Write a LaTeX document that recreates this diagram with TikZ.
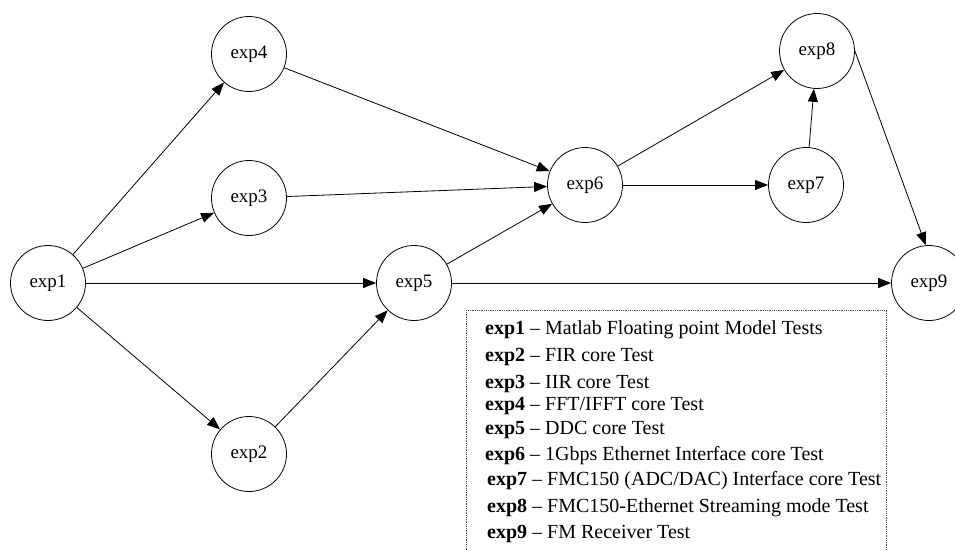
\documentclass[tikz,border=0pt]{standalone}
\usepackage{fontspec}
\setmainfont{Liberation Serif}
\usetikzlibrary{arrows.meta}
\begin{document}
\begin{tikzpicture}[x=1pt,y=-1pt,
  expnode/.style={circle,draw,line width=0.8pt,minimum size=75pt,inner sep=0pt,font=\fontsize{19}{22}\selectfont},
  edge/.style={line width=0.8pt,-{Triangle[length=13pt,width=10pt]}},
  legtext/.style={anchor=base west,inner sep=0pt,font=\fontsize{20}{23}\selectfont}]
\useasboundingbox (0,0) rectangle (955,551);
\fill[white] (0,0) rectangle (955,551);
\node[expnode] (e1) at (48,283) {exp1};
\node[expnode] (e4) at (249,54) {exp4};
\node[expnode] (e3) at (249,198) {exp3};
\node[expnode] (e2) at (249,454) {exp2};
\node[expnode] (e5) at (414,283) {exp5};
\node[expnode] (e6) at (585,185) {exp6};
\node[expnode] (e7) at (806,185) {exp7};
\node[expnode] (e8) at (817,51) {exp8};
\node[expnode] (e9) at (929,283) {exp9};
\draw[edge] (e1) -- (e4);
\draw[edge] (e1) -- (e3);
\draw[edge] (e1) -- (e5);
\draw[edge] (e1) -- (e2);
\draw[edge] (e2) -- (e5);
\draw[edge] (e4) -- (e6);
\draw[edge] (e3) -- (e6);
\draw[edge] (e5) -- (e6);
\draw[edge] (e5) -- (e9);
\draw[edge] (e6) -- (e8);
\draw[edge] (e6) -- (e7);
\draw[edge] (e7) -- (e8);
\draw[edge] (e8.east) -- (e9.95);
\draw[densely dotted,line width=0.8pt,black!70] (466,310) rectangle (886,570);
\node[legtext] (l1) at (485,334) {\textbf{exp1} -- Matlab Floating point Model Tests};
\node[legtext] (l2) at (485,361) {\textbf{exp2} -- FIR core Test};
\node[legtext] (l3) at (485,388) {\textbf{exp3} -- IIR core Test};
\node[legtext] (l4) at (485,410) {\textbf{exp4} -- FFT/IFFT core Test};
\node[legtext] (l5) at (485,434) {\textbf{exp5} -- DDC core Test};
\node[legtext] (l6) at (485,460) {\textbf{exp6} -- 1Gbps Ethernet Interface core Test};
\node[legtext] (l7) at (487,485) {\textbf{exp7} -- FMC150 (ADC/DAC) Interface core Test};
\node[legtext] (l8) at (487,512) {\textbf{exp8} -- FMC150-Ethernet Streaming mode Test};
\node[legtext] (l9) at (487,538) {\textbf{exp9} -- FM Receiver Test};
\end{tikzpicture}
\end{document}
